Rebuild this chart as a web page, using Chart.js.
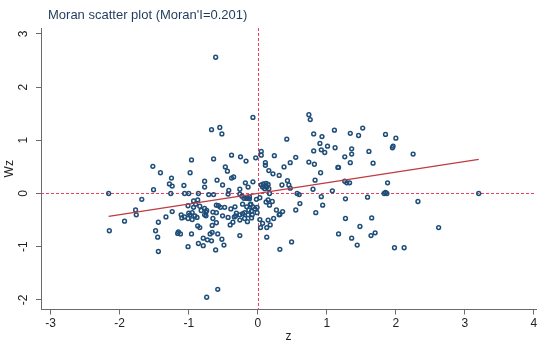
<!DOCTYPE html>
<html>
<head>
<meta charset="utf-8">
<script src="https://cdn.jsdelivr.net/npm/chart.js@4"></script>
<style>
  body { margin: 0; background: #fff; }
  #wrap { width: 550px; height: 346px; }
</style>
</head>
<body>
<div id="wrap"><canvas id="chart-moran"></canvas></div>
<script>
// standardized z and spatial lag Wz
const z = [
  -0.61, -0.07, -0.67, -0.55, -0.52, -0.38, -0.25, -0.17, -0.03, -0.64,
  -0.96, -1.52, -1.41, -0.98, -0.47, -0.44, -1.25, -1.28, -1.24, -1.07,
  -0.77, -0.77, -0.59, -0.51, -0.38, -0.35, -0.18, -0.07, -0.14, -0.26,
  -0.42, -2.16, -1.51, -1.26, -1.06, -1.00, -0.86, -0.71, -0.64, -0.43,
  -0.26, -0.23, -0.20, -0.17, -0.14, -0.12, -0.02, -1.68, -0.93, -0.87,
  -0.90, -1.01, -0.84, -0.77, -0.74, -0.75, -0.60, -0.57, -0.54, -0.48,
  -0.65, -0.60, -0.39, -0.33, -0.22, -0.16, -0.11, -0.07, -0.13, -0.09,
  -0.04, -1.77, -1.76, -1.24, -1.11, -1.06, -1.00, -0.98, -0.95, -0.91,
  -0.88, -1.33, -1.44, -1.93, -0.43, -0.34, -0.26, -0.19, -0.14, -0.08,
  -0.01, -0.77, -0.65, -0.51, -0.40, -2.15, -1.48, -1.45, -1.44, -1.10,
  -1.01, -0.95, -0.93, -0.82, -0.75, -0.87, -0.84, -0.96, -1.16, -1.15,
  -1.12, -1.01, -0.86, -0.79, -0.79, -0.73, -0.67, -0.69, -0.66, -0.66,
  -0.61, -0.58, -0.52, -0.49, -0.60, -0.36, -0.32, -0.31, -0.26, -0.22,
  -0.19, -0.26, -0.15, -0.09, -0.74, -0.58,
  0.74, 0.76, 0.42, 0.81, 0.93, 1.11, 1.34, 1.46, 1.52, 1.85,
  2.00, 0.90, 1.01, 1.12, 0.81, 0.92, 0.97, 1.36, 1.36, 1.26,
  1.61, 1.95, 1.96, 2.25, 0.05, 0.05, 0.24, 0.11, 0.11, 0.16,
  0.22, 0.31, 0.38, 0.47, 0.55, 0.74, 0.82, 1.34, 1.67, 0.91,
  1.16, 1.17, 0.05, 0.08, 0.12, 0.15, 0.07, 0.13, 0.10, 0.16,
  0.35, 0.43, 0.45, 0.47, 0.57, 0.60, 0.80, 0.83, 1.08, 1.26,
  1.29, 1.33, 1.88, 1.85, 1.83, -0.12, 0.03, 0.17, -0.01, 0.15,
  0.17, 0.12, 0.21, 0.27, 0.36, 0.31, 0.03, 0.07, 0.15, 0.18,
  0.23, 0.13, 0.04, 0.55, 0.61, 0.92, 0.94, 0.84, 1.27, 1.27,
  1.48, 1.59, 1.65, 2.32, 2.62, -0.10, 0.13, 0.32, 0.32, 0.49,
  1.17, 1.36, 1.44, 1.64, 1.70, 1.87, 1.98, 2.12, 3.20
];
const wz = [
  2.56, 1.43, 1.20, 1.24, 1.12, 0.72, 0.69, 0.61, 0.67, 0.65,
  0.63, 0.51, 0.39, 0.39, 0.50, 0.42, 0.29, 0.18, 0.14, 0.15,
  0.23, 0.12, 0.25, 0.16, 0.29, 0.31, 0.20, 0.22, 0.12, 0.08,
  0.06, 0.00, 0.07, 0.00, 0.00, 0.00, 0.00, -0.02, -0.02, -0.01,
  -0.01, -0.05, -0.09, -0.09, -0.09, -0.10, -0.11, -0.11, -0.14, -0.12,
  -0.20, -0.23, -0.24, -0.28, -0.32, -0.35, -0.22, -0.23, -0.26, -0.26,
  -0.35, -0.36, -0.29, -0.25, -0.20, -0.25, -0.21, -0.25, -0.31, -0.33,
  -0.29, -0.31, -0.40, -0.34, -0.40, -0.44, -0.37, -0.40, -0.36, -0.42,
  -0.45, -0.44, -0.54, -0.52, -0.45, -0.44, -0.40, -0.47, -0.40, -0.40,
  -0.36, -0.40, -0.47, -0.42, -0.59, -0.70, -0.70, -0.82, -1.09, -0.46,
  -0.47, -0.49, -0.26, -0.32, -0.42, -0.61, -0.64, -0.76, -0.75, -0.72,
  -0.76, -1.00, -0.94, -0.98, -0.84, -0.87, -0.89, -0.76, -0.73, -0.60,
  -1.06, -0.76, -0.86, -0.97, -0.55, -0.54, -0.42, -0.37, -0.50, -0.38,
  -0.36, -0.79, -0.53, -0.46, -1.95, -1.80,
  1.48, 1.39, 1.02, 1.12, 1.07, 1.19, 1.13, 1.09, 1.23, 1.11,
  1.04, 0.94, 0.89, 0.86, 0.80, 0.82, 0.77, 0.84, 0.74, 0.69,
  0.79, 0.86, 0.89, 0.74, 0.79, 0.72, 0.71, 0.58, 0.53, 0.43,
  0.37, 0.34, 0.50, 0.58, 0.68, 0.59, 0.55, 0.58, 0.57, 0.39,
  0.49, 0.49, 0.16, 0.18, 0.19, 0.17, 0.12, 0.12, 0.09, 0.09,
  0.16, 0.24, 0.16, 0.10, 0.00, -0.02, 0.08, 0.25, 0.05, 0.23,
  0.20, 0.20, 0.20, 0.02, 0.00, -0.06, -0.08, 0.00, -0.26, -0.12,
  -0.22, -0.16, -0.15, -0.31, -0.34, -0.40, -0.49, -0.56, -0.50, -0.59,
  -0.47, -0.64, -0.64, -0.31, -0.19, -0.06, -0.22, -0.36, -0.10, -0.47,
  -0.62, -0.07, -0.46, -0.15, -0.64, -0.20, -0.82, -0.39, -1.05, -0.91,
  -0.76, -0.84, -0.97, -0.79, -0.74, 0.00, -1.02, -1.02, 0.00
];
// fitted line end points (slope = Moran's I)
const fitZ = [-2.16, 3.20];
const fitWz = [-0.43, 0.64];

const xTicks = [-3, -2, -1, 0, 1, 2, 3, 4];
const yTicks = [-2, -1, 0, 1, 2, 3];
const titleText = "Moran scatter plot (Moran'I=0.201)";

const axisColor = "#6b6b6b";
const refColor = "#ee3d5e";
const fontFamily = "'Liberation Sans', Arial, sans-serif";

// dashed reference lines at z=0 and Wz=0, rotated y labels, title
const moranExtras = {
  id: "moranExtras",
  beforeDatasetsDraw(chart) {
    const { ctx, chartArea, scales } = chart;
    const x0 = Math.round(scales.x.getPixelForValue(0));
    const y0 = Math.round(scales.y.getPixelForValue(0));
    ctx.save();
    ctx.fillStyle = refColor;
    // dashes as small rects so they stay crisp
    for (let py = chartArea.top; py < chartArea.bottom; py += 5) {
      ctx.fillRect(x0, py, 1, Math.min(3, chartArea.bottom - py));
    }
    for (let px = chartArea.left; px < chartArea.right; px += 5) {
      ctx.fillRect(px, y0, Math.min(3, chartArea.right - px), 1);
    }
    ctx.restore();
  },
  afterDraw(chart) {
    const { ctx, scales } = chart;
    ctx.save();
    ctx.fillStyle = "#222";
    ctx.font = "12px " + fontFamily;
    ctx.textAlign = "center";
    ctx.textBaseline = "middle";
    yTicks.forEach((v) => {
      const py = scales.y.getPixelForValue(v);
      ctx.save();
      ctx.translate(24, py);
      ctx.rotate(-Math.PI / 2);
      ctx.fillText(String(v), 0, 0);
      ctx.restore();
    });
    ctx.fillStyle = "#1f3b5c";
    ctx.font = "13px " + fontFamily;
    ctx.textAlign = "left";
    ctx.fillText(titleText, 48, 15);
    ctx.restore();
  },
};

const ctx = document.getElementById("chart-moran");
const moranChart = new Chart(ctx, {
  type: "scatter",
  data: {
    datasets: [
      {
        type: "line",
        data: fitZ.map((v, i) => ({ x: v, y: fitWz[i] })),
        borderColor: "#bf3b43",
        borderWidth: 1.3,
        pointRadius: 0,
        fill: false,
        order: 0,
      },
      {
        data: z.map((v, i) => ({ x: v, y: wz[i] })),
        borderColor: "#1f4e79",
        backgroundColor: "rgba(0,0,0,0)",
        pointRadius: 1.9,
        borderWidth: 1.5,
        order: 1,
      },
    ],
  },
  options: {
    responsive: true,
    maintainAspectRatio: false,
    animation: false,
    devicePixelRatio: 1,
    layout: { padding: { left: 0, right: 14, top: 28, bottom: 0 } },
    plugins: {
      legend: { display: false },
      tooltip: { enabled: false },
    },
    scales: {
      x: {
        type: "linear",
        min: -3.14,
        max: 4.03,
        afterBuildTicks: (s) => {
          s.ticks = xTicks.map((v) => ({ value: v }));
        },
        afterFit: (s) => {
          s.height = 36.5;
        },
        grid: { drawOnChartArea: false, tickLength: 5, color: axisColor },
        border: { display: true, color: axisColor, width: 1 },
        ticks: { color: "#222", padding: 2, font: { family: fontFamily, size: 12 } },
        title: {
          display: true,
          text: "z",
          color: "#222",
          font: { family: fontFamily, size: 12 },
          padding: { top: 0, bottom: 2 },
        },
      },
      y: {
        type: "linear",
        min: -2.18,
        max: 3.11,
        afterBuildTicks: (s) => {
          s.ticks = yTicks.map((v) => ({ value: v }));
        },
        afterFit: (s) => {
          s.width = 41;
        },
        grid: { drawOnChartArea: false, tickLength: 5, color: axisColor },
        border: { display: true, color: axisColor, width: 1 },
        ticks: { color: "rgba(0,0,0,0)", font: { family: fontFamily, size: 12 } },
        title: {
          display: true,
          text: "Wz",
          color: "#222",
          font: { family: fontFamily, size: 12 },
          padding: { top: 2, bottom: 2 },
        },
      },
    },
  },
  plugins: [moranExtras],
});
</script>
</body>
</html>
